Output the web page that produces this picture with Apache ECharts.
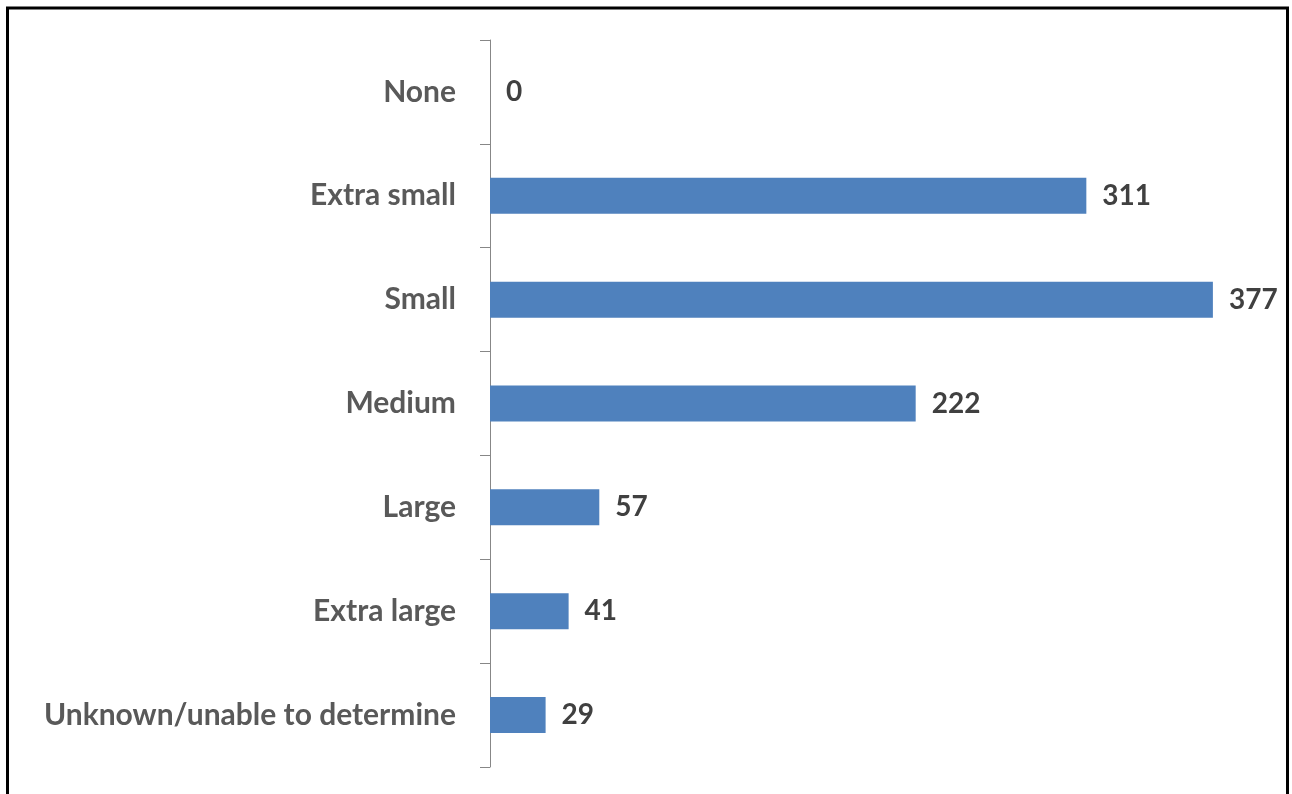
<!DOCTYPE html>
<html>
<head>
<meta charset="utf-8">
<script src="https://cdn.jsdelivr.net/npm/echarts@6/dist/echarts.min.js"></script>
<style>
html,body{margin:0;padding:0;background:#fff;}
#chart{width:1292px;height:794px;}
</style>
</head>
<body>
<div id="chart"></div>
<script>
const categories = ["None", "Extra small", "Small", "Medium", "Large", "Extra large", "Unknown/unable to determine"];
const values = [0, 311, 377, 222, 57, 41, 29];

const chart = echarts.init(document.getElementById('chart'), null, {renderer: 'canvas'});
chart.setOption({
  animation: false,
  backgroundColor: '#ffffff',
  grid: {left: 490, right: 35, top: 40, bottom: 27, containLabel: false},
  xAxis: {
    type: 'value', min: 0, max: 400, show: false
  },
  yAxis: {
    type: 'category',
    data: categories,
    inverse: true,
    axisLine: {show: true, lineStyle: {color: '#878787', width: 1}},
    axisTick: {show: true, length: 10, lineStyle: {color: '#878787', width: 1}},
    axisLabel: {
      margin: 34,
      color: '#595959',
      fontFamily: 'Lato',
      fontWeight: 'bold',
      fontSize: 30
    },
    splitLine: {show: false}
  },
  series: [{
    type: 'bar',
    data: values,
    barWidth: 36,
    itemStyle: {color: '#4F81BD'},
    label: {
      show: true,
      position: 'right',
      distance: 16,
      color: '#404040',
      fontFamily: 'Lato',
      fontWeight: 'bold',
      fontSize: 28
    }
  }],
  graphic: [{
    type: 'rect',
    shape: {x: 7.5, y: 8, width: 1280, height: 810},
    style: {fill: 'none', stroke: '#000000', lineWidth: 3},
    silent: true
  }]
});
</script>
</body>
</html>
